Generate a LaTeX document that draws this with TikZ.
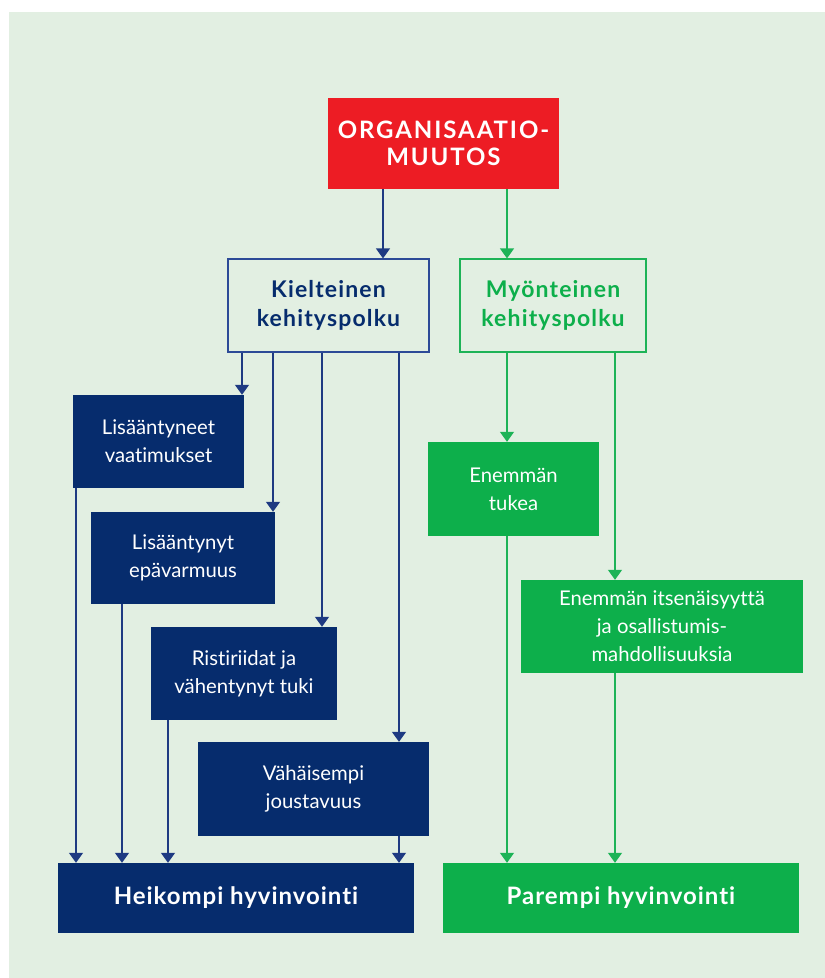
\documentclass[tikz,border=0pt]{standalone}
\usepackage{fontspec}
\setmainfont{Lato}[Ligatures=NoCommon]
\usetikzlibrary{arrows.meta}

\definecolor{paper}{HTML}{E2EFE2}
\definecolor{navy}{HTML}{062C6D}
\definecolor{navyline}{HTML}{1E3A82}
\definecolor{navyedge}{HTML}{2C4A97}
\definecolor{leaf}{HTML}{0DAF4B}
\definecolor{leafline}{HTML}{1DB357}
\definecolor{alarm}{HTML}{ED1C24}

\tikzset{
  box/.style={inner sep=0pt, align=center, text=white,
    font=\fontsize{20.3}{28}\selectfont},
  negbox/.style={box, fill=navy},
  posbox/.style={box, fill=leaf},
  pathbox/.style={box, fill=paper, line width=1.2pt,
    font=\fontsize{23}{29}\selectfont\bfseries\addfontfeatures{LetterSpace=5}},
  endbox/.style={box, font=\fontsize{24}{28}\selectfont\bfseries\addfontfeatures{LetterSpace=4}},
  negarr/.style={draw=navyline, line width=1.3pt,
    -{Triangle[width=14pt,length=10pt]}},
  posarr/.style={draw=leafline, line width=1.3pt,
    -{Triangle[width=14pt,length=10pt]}},
}

\begin{document}
\begin{tikzpicture}[x=1pt,y=-1pt]
  \fill[white] (0,0) rectangle (825,978);
  \useasboundingbox (0,0) rectangle (825,978);
  \fill[paper] (9,12) rectangle (825,978);

  % top: the change itself
  \node[box, fill=alarm, minimum width=231pt, minimum height=91pt,
        font=\fontsize{24}{27}\selectfont\bfseries\addfontfeatures{LetterSpace=8}]
    (change) at (443.5,143.5) {ORGANISAATIO-\\MUUTOS};

  % the two paths
  \node[pathbox, draw=navyedge, text=navy, minimum width=201pt, minimum height=93pt]
    (neg) at (328.5,305.5) {Kielteinen\\kehityspolku};
  \node[pathbox, draw=leafline, text=leaf, minimum width=186pt, minimum height=93pt]
    (pos) at (553,305.5) {Myönteinen\\kehityspolku};

  % negative consequences
  \node[negbox, minimum width=171pt, minimum height=93pt]
    (n1) at (158.5,441.5) {Lisääntyneet\\vaatimukset};
  \node[negbox, minimum width=184pt, minimum height=92pt]
    (n2) at (183,558) {Lisääntynyt\\epävarmuus};
  \node[negbox, minimum width=186pt, minimum height=93pt]
    (n3) at (244,673.5) {Ristiriidat ja\\vähentynyt tuki};
  \node[negbox, minimum width=231pt, minimum height=94pt]
    (n4) at (313.5,789) {Vähäisempi\\joustavuus};

  % positive consequences
  \node[posbox, minimum width=171pt, minimum height=94pt]
    (p1) at (513.5,489) {Enemmän\\tukea};
  \node[posbox, minimum width=282pt, minimum height=93pt]
    (p2) at (662,626.5) {Enemmän itsenäisyyttä\\ja osallistumis-\\mahdollisuuksia};

  % outcomes
  \node[endbox, fill=navy, minimum width=356pt, minimum height=70pt]
    (worse) at (236,898) {Heikompi hyvinvointi};
  \node[endbox, fill=leaf, minimum width=356pt, minimum height=70pt]
    (better) at (621,898) {Parempi hyvinvointi};

  % connectors
  \draw[negarr] (change.south -| 383,0) -- (neg.north -| 383,0);
  \draw[posarr] (change.south -| 507,0) -- (pos.north -| 507,0);

  \draw[negarr] (neg.south -| 242,0) -- (n1.north -| 242,0);
  \draw[negarr] (neg.south -| 273,0) -- (n2.north -| 273,0);
  \draw[negarr] (neg.south -| 322,0) -- (n3.north -| 322,0);
  \draw[negarr] (neg.south -| 399,0) -- (n4.north -| 399,0);

  \draw[negarr] (n1.south -| 76,0)  -- (worse.north -| 76,0);
  \draw[negarr] (n2.south -| 122,0) -- (worse.north -| 122,0);
  \draw[negarr] (n3.south -| 168,0) -- (worse.north -| 168,0);
  \draw[negarr] (n4.south -| 399,0) -- (worse.north -| 399,0);

  \draw[posarr] (pos.south -| 507,0) -- (p1.north -| 507,0);
  \draw[posarr] (pos.south -| 615,0) -- (p2.north -| 615,0);
  \draw[posarr] (p1.south -| 507,0)  -- (better.north -| 507,0);
  \draw[posarr] (p2.south -| 615,0)  -- (better.north -| 615,0);
\end{tikzpicture}
\end{document}
